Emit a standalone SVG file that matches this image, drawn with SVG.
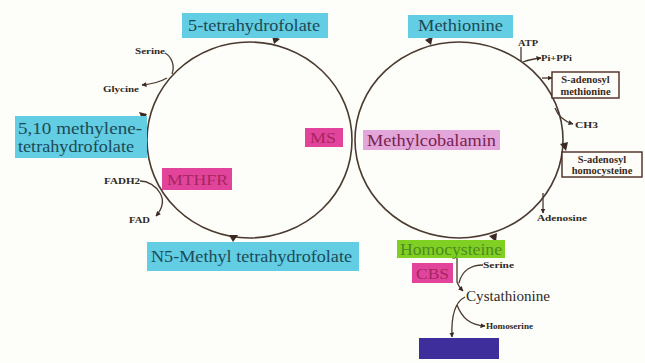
<svg xmlns="http://www.w3.org/2000/svg" width="645" height="363" viewBox="0 0 645 363">
<defs>
<marker id="ah" viewBox="0 0 10 10" refX="9" refY="5" markerWidth="5" markerHeight="5" orient="auto" markerUnits="userSpaceOnUse">
<path d="M0,0 L10,5 L0,10 z" fill="#3a2a22"/>
</marker>
<style>
text{font-family:"Liberation Serif","DejaVu Serif","Times New Roman",serif}
.cyc{fill:none;stroke:#4a3a30;stroke-width:1.6}
.ln{fill:none;stroke:#4a3a30;stroke-width:1.3}
.cy{fill:#62cde3}
.cyt{font-size:17px;fill:#1d4a55}
.mg{fill:#e2449c}
.mgt{font-size:15px;fill:#a5265e}
.sm{font-size:8.5px;font-weight:bold;fill:#2e2a26}
.bx{fill:#fffdf8;stroke:#4a2a22;stroke-width:1.4}
.bxt{font-size:10.5px;font-weight:bold;fill:#3a2a22}
.hd{fill:#3a2a22}
</style>
</defs>
<rect width="645" height="363" fill="#fdfdf9"/>

<g id="connectors">
<ellipse class="cyc" cx="249.5" cy="140" rx="102.5" ry="98"/>
<ellipse class="cyc" cx="459" cy="140" rx="104" ry="98"/>
<path class="hd" d="M272,36 L280,39 L274,44 z"/>
<path class="hd" d="M139,112 L147,114 L143,121 z"/>
<path class="hd" d="M229,235 L238,235 L233,242 z"/>
<path class="hd" d="M425,40 L433,36 L431,45 z"/>
<path class="hd" d="M560,144 L568,142 L566,151 z"/>
<path class="hd" d="M489,236 L497,233 L496,242 z"/>
<path class="ln" d="M165,53 C172,57 175,66 172,74"/>
<path class="ln" d="M167,78 C160,82 152,84 142,85" marker-end="url(#ah)"/>
<path class="ln" d="M140,181 C148,181 156,186 160,193 C164,200 163,208 156,216" marker-end="url(#ah)"/>
<path class="ln" d="M521,47 L521,61"/>
<path class="ln" d="M523,62 C528,60 533,59 541,58" marker-end="url(#ah)"/>
<path class="ln" d="M542,78 L552,78" marker-end="url(#ah)"/>
<path class="ln" d="M555,108 C558,116 563,121 573,124" marker-end="url(#ah)"/>
<path class="ln" d="M543,193 L543,213" marker-end="url(#ah)"/>
<path class="ln" d="M457,258 L457,282 C458,285 460,288 463,291" marker-end="url(#ah)"/>
<path class="ln" d="M483,265 C472,265 462,270 459,283"/>
<path class="ln" d="M465,297 C455,302 451,315 452,337" marker-end="url(#ah)"/>
<path class="ln" d="M457,305 C462,318 470,325 485,326" marker-end="url(#ah)"/>
</g>

<g id="n-thf">
<rect class="cy" x="182" y="13" width="146" height="25"/>
<text class="cyt" x="188" y="31" textLength="132" lengthAdjust="spacingAndGlyphs">5-tetrahydrofolate</text>
</g>
<g id="n-methylene">
<rect class="cy" x="15" y="116" width="132" height="42"/>
<text class="cyt" x="18" y="134" textLength="124" lengthAdjust="spacingAndGlyphs">5,10 methylene-</text>
<text class="cyt" x="18" y="152" textLength="116" lengthAdjust="spacingAndGlyphs">tetrahydrofolate</text>
</g>
<g id="n-n5">
<rect class="cy" x="147" y="242" width="212" height="29"/>
<text class="cyt" x="151" y="262" textLength="201" lengthAdjust="spacingAndGlyphs">N5-Methyl tetrahydrofolate</text>
</g>
<g id="n-mthfr">
<rect class="mg" x="162" y="168" width="70" height="22"/>
<text class="mgt" x="167" y="185" textLength="61" lengthAdjust="spacingAndGlyphs">MTHFR</text>
</g>
<g id="n-ms">
<rect class="mg" x="305" y="128" width="38" height="19"/>
<text class="mgt" x="310" y="143" textLength="26" lengthAdjust="spacingAndGlyphs">MS</text>
</g>
<g id="n-methionine">
<rect class="cy" x="408" y="15" width="105" height="23"/>
<text class="cyt" x="418" y="31" textLength="85" lengthAdjust="spacingAndGlyphs">Methionine</text>
</g>
<g id="n-methylcobalamin">
<rect x="363" y="130" width="137" height="20" fill="#e3a6da"/>
<text x="367" y="146" font-size="16" fill="#7a2150" textLength="129" lengthAdjust="spacingAndGlyphs">Methylcobalamin</text>
</g>
<g id="n-sam">
<rect class="bx" x="552" y="72" width="67" height="26"/>
<text class="bxt" x="585.5" y="83" text-anchor="middle">S-adenosyl</text>
<text class="bxt" x="585.5" y="95" text-anchor="middle">methionine</text>
</g>
<g id="n-sah">
<rect class="bx" x="562" y="152" width="80" height="25"/>
<text class="bxt" x="602" y="163" text-anchor="middle">S-adenosyl</text>
<text class="bxt" x="602" y="174" text-anchor="middle">homocysteine</text>
</g>
<g id="n-homocysteine">
<rect x="397" y="240" width="108" height="18" fill="#7fd022"/>
<text x="400" y="255" font-size="16" fill="#4f8a22" textLength="102" lengthAdjust="spacingAndGlyphs">Homocysteine</text>
</g>
<g id="n-cbs">
<rect class="mg" x="412" y="263" width="41" height="20"/>
<text class="mgt" x="416" y="279" textLength="33" lengthAdjust="spacingAndGlyphs">CBS</text>
</g>
<g id="n-cystathionine">
<text x="466" y="301" font-size="15" fill="#2e2a26" textLength="84" lengthAdjust="spacingAndGlyphs">Cystathionine</text>
</g>
<g id="n-bottom">
<rect x="419" y="338" width="80" height="21" fill="#3e2e9c"/>
</g>

<g id="labels">
<text class="sm" x="135" y="54" textLength="30" lengthAdjust="spacingAndGlyphs">Serine</text>
<text class="sm" x="103" y="92" textLength="36" lengthAdjust="spacingAndGlyphs">Glycine</text>
<text class="sm" x="104" y="184" textLength="36" lengthAdjust="spacingAndGlyphs">FADH2</text>
<text class="sm" x="129" y="223" textLength="21" lengthAdjust="spacingAndGlyphs">FAD</text>
<text class="sm" x="518" y="46" textLength="20" lengthAdjust="spacingAndGlyphs">ATP</text>
<text class="sm" x="541" y="61" textLength="31" lengthAdjust="spacingAndGlyphs">Pi+PPi</text>
<text class="sm" x="575" y="128" textLength="23" lengthAdjust="spacingAndGlyphs">CH3</text>
<text class="sm" x="537" y="221" textLength="50" lengthAdjust="spacingAndGlyphs">Adenosine</text>
<text class="sm" x="483" y="268" textLength="31" lengthAdjust="spacingAndGlyphs">Serine</text>
<text class="sm" x="486" y="329" textLength="47" lengthAdjust="spacingAndGlyphs">Homoserine</text>
</g>
</svg>
